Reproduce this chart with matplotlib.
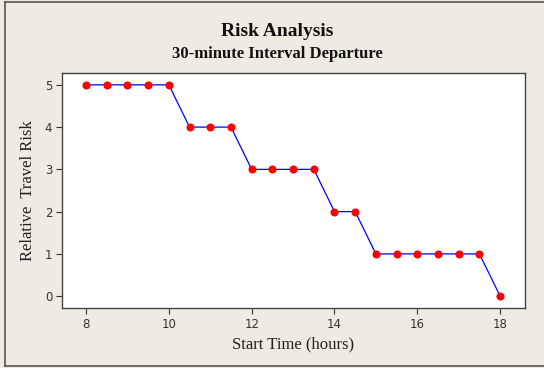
import matplotlib
matplotlib.use("Agg")
import matplotlib.pyplot as plt
from matplotlib.lines import Line2D

start_time = [8, 8.5, 9, 9.5, 10, 10.5, 11, 11.5, 12, 12.5, 13, 13.5, 14, 14.5,
              15, 15.5, 16, 16.5, 17, 17.5, 18]
risk = [5, 5, 5, 5, 5, 4, 4, 4, 3, 3, 3, 3, 2, 2, 1, 1, 1, 1, 1, 1, 0]
x_ticks = [8, 10, 12, 14, 16, 18]
y_ticks = [0, 1, 2, 3, 4, 5]

W, H = 544, 368
bg = "#efebe2"
fig = plt.figure(figsize=(W / 100, H / 100), dpi=100, facecolor=bg)

# outer frame (left, top, bottom)
fc = "#555555"
fig.add_artist(Line2D([4.5 / W, 4.5 / W], [1 - 1.5 / H, 1 - 365.5 / H], color=fc, lw=1.2, transform=fig.transFigure))
fig.add_artist(Line2D([4.5 / W, 1], [1 - 1.5 / H, 1 - 1.5 / H], color=fc, lw=1.2, transform=fig.transFigure))
fig.add_artist(Line2D([4.5 / W, 1], [1 - 365.5 / H, 1 - 365.5 / H], color=fc, lw=1.2, transform=fig.transFigure))

left, right, top, bottom = 62, 525, 73, 308
ax = fig.add_axes([left / W, 1 - bottom / H, (right - left) / W, (bottom - top) / H])
ax.set_facecolor("white")

ax.plot(start_time, risk, color="#0000ff", lw=0.9, zorder=2)
ax.plot(start_time, risk, "o", color="#ff0000", markersize=5.8, markeredgewidth=0, zorder=3)

ax.set_xlim(7.42, 18.6)
ax.set_ylim(-0.28, 5.28)
ax.set_xticks(x_ticks)
ax.set_yticks(y_ticks)
ax.tick_params(direction="out", length=4, width=0.8, colors="#333333", labelsize=8.5,
               labelcolor="#333333", pad=3)
for s in ax.spines.values():
    s.set_color("#444444")
    s.set_linewidth(1.0)

serif = ["Liberation Serif", "DejaVu Serif"]
ax.set_xlabel("Start Time (hours)", family=serif, fontsize=12, color="#222222", labelpad=4)
ax.set_ylabel("Relative  Travel Risk", family=serif, fontsize=12, color="#222222", labelpad=6)

fig.text(277 / W, 1 - 32 / H, "Risk Analysis", family=serif, fontsize=14,
         fontweight="bold", ha="center", va="center", color="#111111")
fig.text(277 / W, 1 - 54 / H, "30-minute Interval Departure", family=serif,
         fontsize=12, fontweight="bold", ha="center", va="center", color="#111111")

fig.savefig("out.png", dpi=100, facecolor=bg)
